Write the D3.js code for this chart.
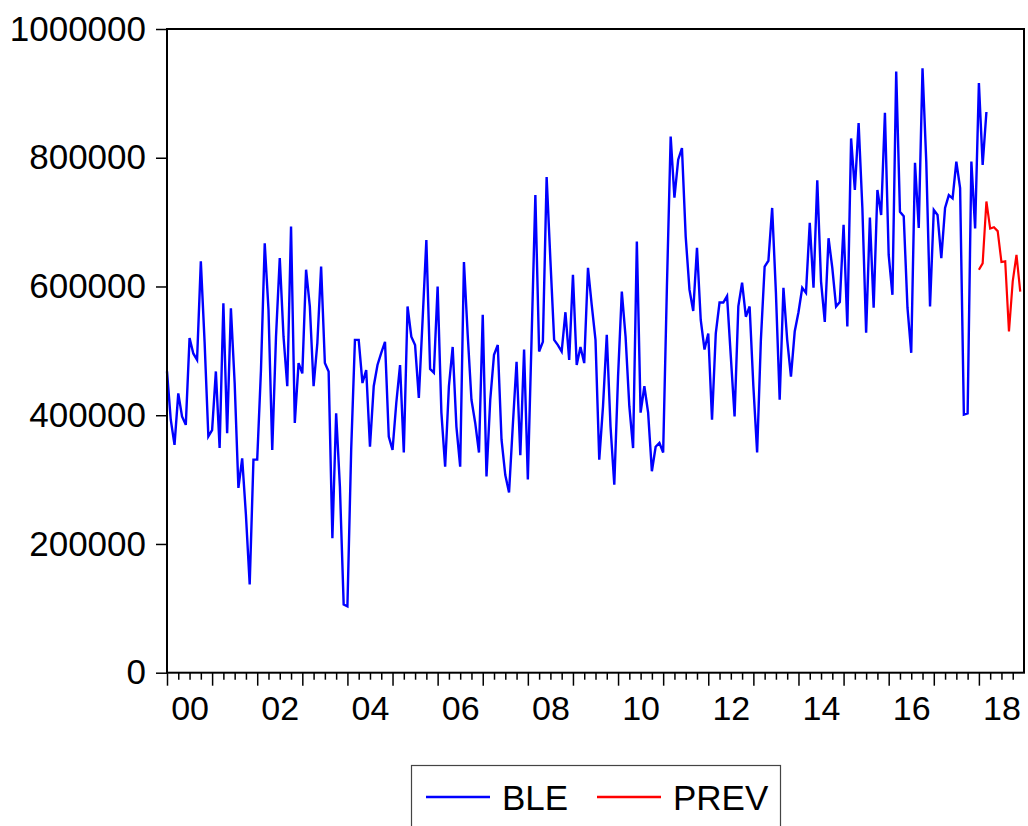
<!DOCTYPE html>
<html>
<head>
<meta charset="utf-8">
<script src="https://cdn.jsdelivr.net/npm/d3@7"></script>
<style>
  html, body { margin: 0; padding: 0; background: #fff; }
  svg { display: block; font-family: "Liberation Sans", Arial, sans-serif; }
</style>
</head>
<body>
<svg id="chart"></svg>
<script>
const width = 1028;
const height = 826;
const plot = {left: 167, right: 1024, top: 29, bottom: 672.7};

// BLE, monthly, 2000M01 .. 2018M03 (thousands)
const ble = [
  468, 393, 354, 434, 398, 385, 520, 496, 486, 639, 514, 367,  // 2000
  377, 468, 349, 574, 372, 566, 450, 287, 333, 245, 137, 331,  // 2001
  331, 470, 667, 564, 346, 522, 644, 522, 445, 693, 388, 481,  // 2002
  465, 626, 569, 445, 512, 631, 481, 468, 209, 403, 289, 106,  // 2003
  103, 346, 517, 517, 450, 470, 351, 445, 478, 497, 514, 367,  // 2004
  346, 419, 478, 342, 569, 522, 509, 427, 548, 672, 472, 466,  // 2005
  600, 404, 320, 445, 506, 382, 320, 638, 525, 424, 388, 342,  // 2006
  556, 305, 424, 494, 509, 362, 307, 280, 384, 483, 338, 502,  // 2007
  300, 520, 742, 499, 514, 770, 641, 517, 509, 499, 560, 486,  // 2008
  618, 478, 506, 481, 629, 571, 517, 331, 414, 525, 382, 292,  // 2009
  460, 592, 522, 414, 349, 670, 404, 445, 404, 313, 351, 357,  // 2010
  342, 600, 833, 738, 797, 815, 677, 595, 562, 660, 548, 502,  // 2011
  527, 393, 527, 575, 575, 585, 491, 398, 569, 606, 553, 569,  // 2012
  445, 342, 517, 631, 640, 722, 590, 424, 598, 517, 460, 530,  // 2013
  560, 598, 590, 699, 598, 765, 608, 545, 675, 629, 569, 576,  // 2014
  696, 538, 830, 750, 854, 722, 528, 707, 567, 750, 711, 870,  // 2015
  649, 587, 934, 716, 709, 567, 497, 792, 691, 939, 794, 569,  // 2016
  719, 711, 644, 722, 742, 737, 794, 753, 401, 403, 794, 690,  // 2017
  916, 789, 871                                                // 2018
];

// PREV, monthly, 2018M01 .. 2018M12 (thousands)
const prev = [626, 636, 732, 690, 692, 686, 638, 639, 530, 608, 649, 592];
const prevStart = 216;   // month index of 2018M01

const nMonths = 228;     // 2000M01 .. 2018M12
const yearLabels = ["00", "02", "04", "06", "08", "10", "12", "14", "16", "18"];
const yTicks = [0, 200000, 400000, 600000, 800000, 1000000];

const svg = d3.select("#chart")
  .attr("width", width)
  .attr("height", height);

const x = d3.scaleLinear()
  .domain([0, nMonths])
  .range([plot.left, plot.right]);

const y = d3.scaleLinear()
  .domain([0, 1000000])
  .range([plot.bottom, plot.top]);

// y axis
const yAxis = svg.append("g")
  .attr("transform", `translate(${plot.left},0)`)
  .call(d3.axisLeft(y).tickValues(yTicks).tickSize(11).tickPadding(10).tickFormat(d3.format("d")));
yAxis.select(".domain").remove();
yAxis.selectAll("line").attr("stroke", "#000").attr("stroke-width", 1.5);
yAxis.selectAll("text").attr("font-size", 35).attr("font-family", "Liberation Sans, Arial, sans-serif").attr("fill", "#000");

// x axis: quarterly minor ticks, yearly major ticks, labels centred on even years
const minorAxis = svg.append("g")
  .attr("transform", `translate(0,${plot.bottom})`)
  .call(d3.axisBottom(x).tickValues(d3.range(0, nMonths, 3).filter(d => d % 12 !== 0)).tickSize(7).tickFormat(""));
minorAxis.select(".domain").remove();
minorAxis.selectAll("line").attr("stroke", "#000").attr("stroke-width", 1.5);

const majorAxis = svg.append("g")
  .attr("transform", `translate(0,${plot.bottom})`)
  .call(d3.axisBottom(x).tickValues(d3.range(0, nMonths, 12)).tickSize(13).tickFormat(""));
majorAxis.select(".domain").remove();
majorAxis.selectAll("line").attr("stroke", "#000").attr("stroke-width", 1.5);

const labelAxis = svg.append("g")
  .attr("transform", `translate(0,${plot.bottom})`)
  .call(d3.axisBottom(x)
    .tickValues(yearLabels.map((d, i) => i * 24 + 6))
    .tickSize(0).tickPadding(23)
    .tickFormat((d, i) => yearLabels[i]));
labelAxis.select(".domain").remove();
labelAxis.selectAll("text").attr("font-size", 34).attr("font-family", "Liberation Sans, Arial, sans-serif").attr("fill", "#000");

// lines
const line = d3.line()
  .x(d => x(d.i))
  .y(d => y(d.v * 1000));

const bleData = ble.map((v, i) => ({i: i, v: v}));
const prevData = prev.map((v, i) => ({i: prevStart + i, v: v}));

svg.append("path")
  .datum(bleData)
  .attr("d", line)
  .attr("fill", "none")
  .attr("stroke", "#0000ff")
  .attr("stroke-width", 2.4);

svg.append("path")
  .datum(prevData)
  .attr("d", line)
  .attr("fill", "none")
  .attr("stroke", "#ff0000")
  .attr("stroke-width", 2.2);

// frame
svg.append("rect")
  .attr("x", plot.left)
  .attr("y", plot.top)
  .attr("width", plot.right - plot.left)
  .attr("height", plot.bottom - plot.top)
  .attr("fill", "none")
  .attr("stroke", "#000")
  .attr("stroke-width", 2);

// legend
const legend = svg.append("g");
legend.append("rect")
  .attr("x", 411.5).attr("y", 765.5)
  .attr("width", 369).attr("height", 70)
  .attr("fill", "none")
  .attr("stroke", "#444")
  .attr("stroke-width", 1.2);

const items = [
  {name: "BLE", color: "#0000ff", x0: 426},
  {name: "PREV", color: "#ff0000", x0: 597}
];
items.forEach(d => {
  legend.append("line")
    .attr("x1", d.x0).attr("x2", d.x0 + 64)
    .attr("y1", 797).attr("y2", 797)
    .attr("stroke", d.color)
    .attr("stroke-width", 2.4);
  legend.append("text")
    .attr("x", d.x0 + 76)
    .attr("y", 810)
    .attr("font-size", 35)
    .attr("fill", "#000")
    .text(d.name);
});
</script>
</body>
</html>
